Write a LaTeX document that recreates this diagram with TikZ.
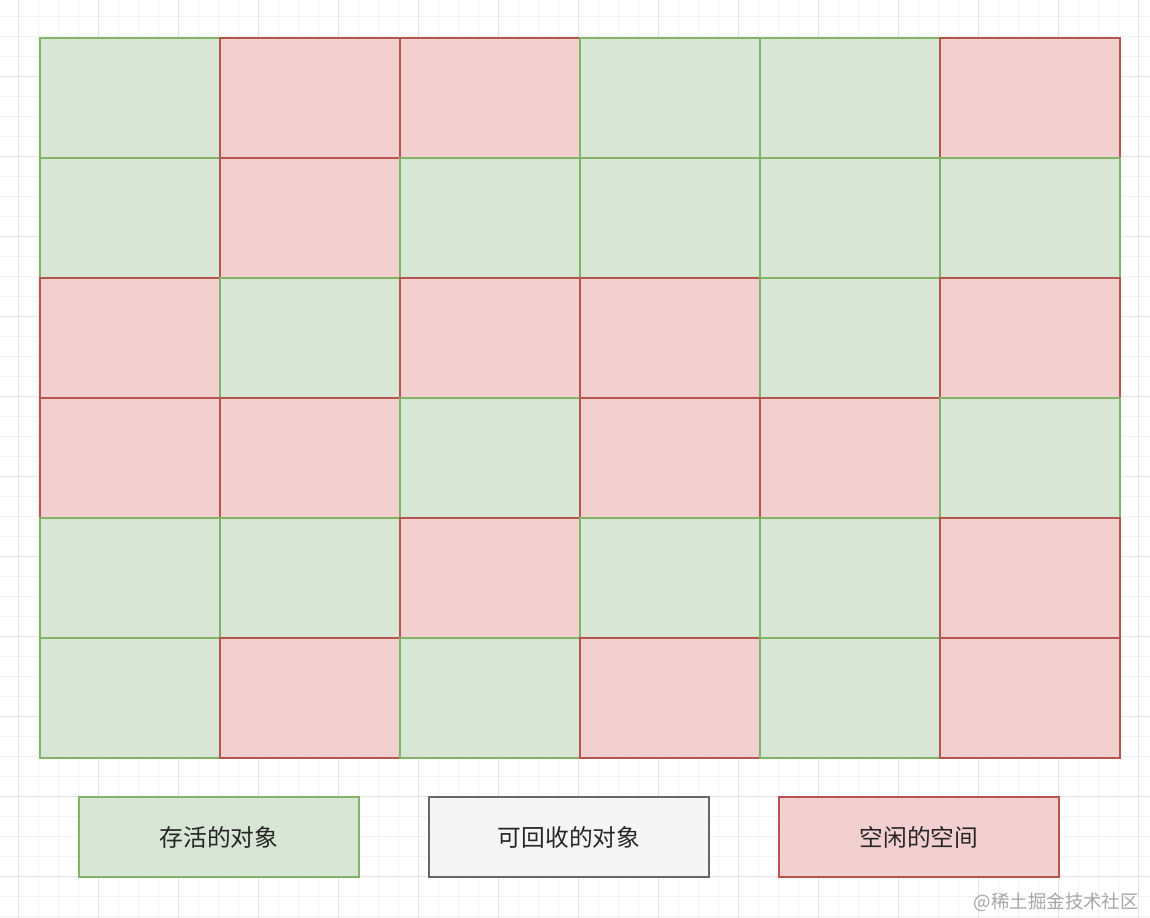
\documentclass[tikz,border=0pt]{standalone}
\usepackage{fontspec}
\setmainfont{Noto Sans CJK SC}

\definecolor{liveFill}{HTML}{D8E6D6}
\definecolor{liveLine}{HTML}{82B366}
\definecolor{freeFill}{HTML}{F2D0CF}
\definecolor{freeLine}{HTML}{B85450}
\definecolor{deadFill}{HTML}{F5F5F5}
\definecolor{deadLine}{HTML}{666666}
\definecolor{gridMinor}{HTML}{F3F3F3}
\definecolor{gridMajor}{HTML}{E2E2E2}

\begin{document}
\begin{tikzpicture}[x=0.02cm, y=-0.02cm]
\tikzset{
  cell/.style={draw, line width=1.1pt, inner sep=0pt, anchor=north west,
               minimum width=3.6cm, minimum height=2.4cm},
  cellL/.style={cell, fill=liveFill, draw=liveLine},
  cellF/.style={cell, fill=freeFill, draw=freeLine},
  legend/.style={draw, line width=1.1pt, inner sep=0pt,
                 minimum width=5.6cm, minimum height=1.6cm,
                 text=black!85, font=\fontsize{13.5}{16}\selectfont}
  };

% background and grid
\useasboundingbox[fill=white] (0,0) rectangle (1150,918);
\foreach \x in {18,38,...,1138} \draw[gridMinor, line width=0.5pt] (\x,0) -- (\x,918);
\foreach \y in {16,36,...,916}  \draw[gridMinor, line width=0.5pt] (0,\y) -- (1150,\y);
\foreach \x in {18,98,...,1138} \draw[gridMajor, line width=0.5pt] (\x,0) -- (\x,918);
\foreach \y in {76,156,...,876}  \draw[gridMajor, line width=0.5pt] (0,\y) -- (1150,\y);

% heap cells, row by row
\foreach \pat [count=\r] in {{L,F,F,L,L,F},{L,F,L,L,L,L},{F,L,F,F,L,F},
                             {F,F,L,F,F,L},{L,L,F,L,L,F},{L,F,L,F,L,F}} {
  \foreach \k [count=\c] in \pat {
    \node[cell\k] (c\r\c) at ({39+180*(\c-1)},{37+120*(\r-1)}) {};
  }
}

% legend
\node[legend, fill=liveFill, draw=liveLine] (live) at (219,837) {存活的对象};
\node[legend, fill=deadFill, draw=deadLine] (dead) at (569,837) {可回收的对象};
\node[legend, fill=freeFill, draw=freeLine] (free) at (919,837) {空闲的空间};

\node[text=black!35, font=\fontsize{10.5}{12}\selectfont, anchor=east] (mark) at (1145,902) {@稀土掘金技术社区};

\end{tikzpicture}
\end{document}
